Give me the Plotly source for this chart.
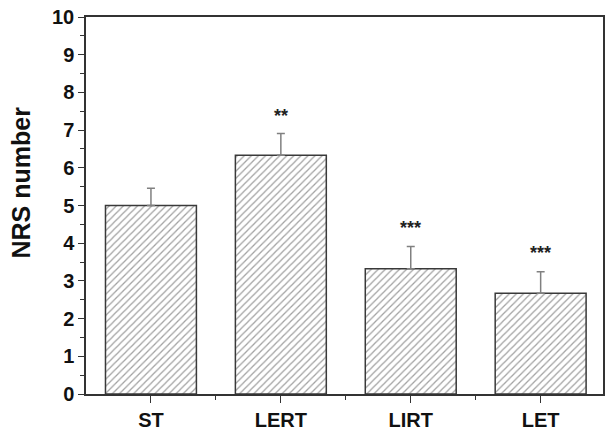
import plotly.graph_objects as go

categories = ["ST", "LERT", "LIRT", "LET"]
means = [5.0, 6.33, 3.32, 2.67]
errors = [0.46, 0.58, 0.59, 0.57]
sig_labels = ["", "**", "***", "***"]
sig_heights = [None, 7.38, 4.41, 3.73]
y_ticks = list(range(0, 11))

xpos = list(range(len(categories)))

fig = go.Figure()
fig.add_trace(go.Bar(
    x=xpos, y=means, width=0.70,
    marker=dict(color="white",
                line=dict(color="#3a3a3a", width=1.5),
                pattern=dict(shape="/", fgcolor="#444444", bgcolor="white",
                             size=5, solidity=0.25)),
    error_y=dict(type="data", symmetric=False, array=errors,
                 arrayminus=[0] * len(errors), color="#808080",
                 thickness=1.5, width=4),
    showlegend=False,
))

for x, lab, h in zip(xpos, sig_labels, sig_heights):
    if lab:
        fig.add_annotation(x=x, y=h, text=f"<b>{lab}</b>", showarrow=False,
                           font=dict(family="Liberation Sans", size=18, color="#222"),
                           xanchor="center", yanchor="middle")

fig.add_annotation(xref="paper", yref="paper", x=-0.125, y=0.562,
                   text="<b>NRS number</b>", textangle=-90, showarrow=False,
                   font=dict(family="Liberation Sans", size=25, color="#111"),
                   xanchor="center", yanchor="middle")

fig.update_layout(
    width=606, height=432,
    margin=dict(l=86, r=1, t=17, b=34),
    paper_bgcolor="white", plot_bgcolor="white",
    font=dict(family="Liberation Sans", color="#111"),
)
fig.update_xaxes(
    range=[-0.5, 3.48], tickmode="array", tickvals=xpos, ticktext=[f"<b>{c}</b>" for c in categories],
    ticks="outside", ticklen=7, tickwidth=1.2, tickcolor="#333",
    minor=dict(tickvals=[0.5, 1.5, 2.5], ticks="outside", ticklen=4, tickcolor="#333", tickwidth=1.2),
    showline=True, linecolor="#333", linewidth=1.5, mirror=True,
    showgrid=False, zeroline=False, tickfont=dict(size=20, family="Liberation Sans"),
)
fig.update_yaxes(
    range=[0, 10], tickmode="array", tickvals=y_ticks, ticktext=[f"<b>{t}</b>" for t in y_ticks],
    ticks="outside", ticklen=6, tickwidth=1.2, tickcolor="#333",
    minor=dict(dtick=0.5, ticks="outside", ticklen=4, tickcolor="#333", tickwidth=1.2),
    showline=True, linecolor="#333", linewidth=1.5, mirror=True,
    showgrid=False, zeroline=False, tickfont=dict(size=20, family="Liberation Sans"),
)

fig.write_html("out.html", config={"displayModeBar": False},
               post_script="document.body.style.margin='0px';document.body.style.overflow='hidden';")
